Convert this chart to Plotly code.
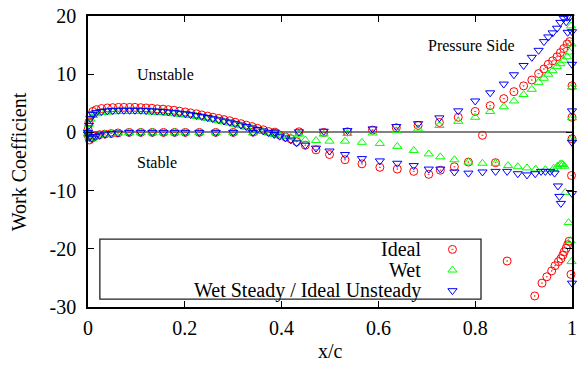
import plotly.graph_objects as go

# ---------------- data ----------------
upper_grid = [0.000, 0.002, 0.005, 0.010, 0.017, 0.028, 0.040, 0.051, 0.063, 0.074,
              0.086, 0.097, 0.109, 0.120, 0.132, 0.143, 0.155, 0.166, 0.178, 0.189,
              0.201, 0.212, 0.224, 0.235, 0.247, 0.258, 0.270, 0.281, 0.293, 0.304,
              0.316, 0.327, 0.339, 0.350, 0.362, 0.373, 0.385, 0.396, 0.408, 0.419, 0.431]

lower_grid = [0.000, 0.003, 0.008, 0.015, 0.024, 0.035, 0.048, 0.062, 0.085, 0.109,
              0.133, 0.156, 0.179, 0.201, 0.230, 0.264, 0.300, 0.341, 0.386, 0.436,
              0.487, 0.536, 0.588, 0.637, 0.682, 0.726, 0.765, 0.800, 0.831, 0.859,
              0.880, 0.900, 0.917, 0.931, 0.942, 0.951, 0.960, 0.969, 0.976, 0.983,
              0.990, 0.995]

# Ideal
ideal_upper_y = [0.5, 1.8, 2.9, 3.6, 3.9, 4.1, 4.2, 4.25, 4.3, 4.3,
                 4.3, 4.3, 4.25, 4.2, 4.15, 4.05, 4.0, 3.9, 3.8, 3.65,
                 3.5, 3.35, 3.2, 3.0, 2.8, 2.6, 2.4, 2.2, 2.0, 1.75,
                 1.5, 1.25, 1.0, 0.7, 0.45, 0.15, -0.15, -0.45, -0.8, -1.1, -1.6]
ideal_tail_x = [0.449, 0.471, 0.499, 0.531, 0.566, 0.603, 0.639, 0.673, 0.704, 0.728,
                0.757, 0.786, 0.815, 0.842, 0.866]
ideal_tail_y = [-2.2, -3.0, -3.8, -4.7, -5.4, -6.0, -6.3, -6.7, -7.2, -6.5,
                -5.9, -5.1, -0.5, -5.2, -22.1]
ideal_lower_y = [-0.5, -1.3, -1.0, -0.6, -0.4, -0.3, -0.2, -0.1, 0.0, 0.0,
                 0.0, 0.0, 0.0, 0.0, 0.0, 0.0, 0.0, 0.05, 0.05, 0.1,
                 0.0, 0.1, 0.4, 0.8, 1.2, 1.7, 2.6, 3.6, 4.6, 5.8,
                 7.0, 8.0, 9.0, 10.1, 10.9, 11.7, 12.3, 13.0, 13.7, 14.4,
                 15.2, 15.6]
ideal_te_x = [0.923, 0.938, 0.948, 0.958, 0.965, 0.972, 0.977, 0.981, 0.984, 0.988,
              0.991, 0.994, 0.998, 0.999, 1.0, 1.0, 1.0]
ideal_te_y = [-28.1, -25.9, -24.8, -23.8, -22.9, -22.2, -21.7, -21.1, -20.5, -19.9,
              -19.3, -18.7, -24.4, -7.4, -1.1, 2.6, 8.0]

# Wet
wet_upper_y = [0.3, 1.4, 2.3, 2.9, 3.2, 3.4, 3.5, 3.55, 3.6, 3.6,
               3.6, 3.6, 3.6, 3.55, 3.5, 3.45, 3.4, 3.3, 3.2, 3.1,
               3.0, 2.9, 2.75, 2.6, 2.4, 2.2, 2.0, 1.8, 1.6, 1.4,
               1.15, 0.9, 0.65, 0.4, 0.15, -0.1, -0.35, -0.55, -0.7, -0.85, -1.0]
wet_tail_x = [0.449, 0.471, 0.499, 0.531, 0.566, 0.603, 0.639, 0.673, 0.704, 0.728,
              0.757, 0.786, 0.815, 0.842, 0.868, 0.888, 0.907, 0.925, 0.945, 0.962,
              0.970, 0.975, 0.978, 0.981, 0.984, 0.986, 0.993, 0.997, 0.999]
wet_tail_y = [-1.3, -1.4, -1.5, -1.5, -1.7, -1.9, -2.4, -3.1, -3.7, -4.2,
              -4.7, -5.1, -5.3, -5.3, -5.7, -5.9, -6.1, -6.3, -6.4, -6.2,
              -5.8, -5.5, -5.4, -5.5, -5.8, -10.3, -15.5, -18.6, -22.2]
wet_lower_y = [-0.3, -0.9, -1.1, -0.8, -0.5, -0.3, -0.2, -0.1, 0.0, 0.0,
               0.0, 0.0, 0.0, 0.0, 0.0, 0.0, 0.0, -0.1, -0.2, -0.3,
               -0.3, -0.2, -0.1, 0.3, 0.6, 1.2, 1.9, 2.6, 3.6, 4.4,
               5.4, 6.5, 7.4, 8.6, 9.3, 10.0, 10.6, 11.3, 11.8, 12.4,
               13.0, 13.8]
wet_te_x = [0.998, 0.999, 1.0, 1.0, 1.0]
wet_te_y = [18.3, 15.2, 7.8, 2.5, -1.1]

# Wet Steady / Ideal Unsteady
ws_upper_y = [0.0, 1.2, 2.4, 3.1, 3.4, 3.6, 3.7, 3.75, 3.8, 3.8,
              3.8, 3.8, 3.8, 3.75, 3.7, 3.65, 3.6, 3.5, 3.4, 3.3,
              3.2, 3.05, 2.9, 2.75, 2.55, 2.35, 2.15, 1.95, 1.75, 1.5,
              1.25, 1.0, 0.75, 0.5, 0.25, -0.05, -0.35, -0.65, -0.95, -1.3, -1.8]
ws_tail_x = [0.449, 0.471, 0.499, 0.531, 0.566, 0.603, 0.639, 0.673, 0.704, 0.728,
             0.757, 0.786, 0.815, 0.842, 0.866, 0.888, 0.907, 0.924, 0.936, 0.945,
             0.955, 0.964, 0.971, 0.974, 0.977]
ws_tail_y = [-2.2, -2.7, -3.2, -3.8, -4.5, -4.9, -5.3, -5.7, -6.3, -6.3,
             -6.8, -7.0, -6.8, -6.7, -6.7, -7.1, -7.3, -7.1, -6.7, -6.7,
             -6.7, -7.0, -9.2, -11.0, -12.2]
ws_lower_y = [-0.3, -0.8, -1.0, -0.7, -0.5, -0.3, -0.2, -0.1, 0.0, 0.0,
              0.0, 0.0, 0.0, 0.0, 0.0, 0.0, 0.0, 0.0, 0.05, 0.1,
              0.2, 0.3, 0.6, 1.0, 1.5, 2.5, 3.7, 5.4, 6.8, 8.3,
              9.9, 11.5, 12.9, 14.1, 15.6, 16.4, 17.1, 17.9, 18.9, 19.6,
              19.8, 19.8]
ws_te_x = [0.988, 0.991, 1.0, 1.0, 1.0, 1.0, 1.0, 1.0]
ws_te_y = [19.0, 17.2, 17.3, 11.7, 3.7, -1.7, -10.5, -25.9]

series_names = ["Ideal", "Wet", "Wet Steady / Ideal Unsteady"]
series_colors = ["#ff0000", "#00ff00", "#0000ff"]
series_symbols = ["circle-open-dot", "triangle-up-open", "triangle-down-open"]

x_ticks = [0, 0.2, 0.4, 0.6, 0.8, 1]
x_ticktext = ["0", "0.2", "0.4", "0.6", "0.8", "1"]
y_ticks = [-30, -20, -10, 0, 10, 20]
y_ticktext = ["-30", "-20", "-10", "0", "10", "20"]

# ---------------- figure ----------------
FONT = "Liberation Serif, Times New Roman, serif"
series_x = [
    upper_grid + ideal_tail_x + lower_grid + ideal_te_x,
    upper_grid + wet_tail_x + lower_grid + wet_te_x,
    upper_grid + ws_tail_x + lower_grid + ws_te_x,
]
series_y = [
    ideal_upper_y + ideal_tail_y + ideal_lower_y + ideal_te_y,
    wet_upper_y + wet_tail_y + wet_lower_y + wet_te_y,
    ws_upper_y + ws_tail_y + ws_lower_y + ws_te_y,
]

fig = go.Figure()
for name, xs, ys, c, s in zip(series_names, series_x, series_y, series_colors, series_symbols):
    fig.add_trace(go.Scatter(
        x=xs, y=ys, mode="markers", name=name, showlegend=False, cliponaxis=False,
        marker=dict(symbol=s, size=8, color=c, line=dict(color=c, width=1)),
    ))

# hand-made gnuplot-style key (symbols on an overlay axis in plot-fraction units)
key_rows = [0.198, 0.127, 0.056]
for name, c, s, ry in zip(series_names, series_colors, series_symbols, key_rows):
    fig.add_trace(go.Scatter(
        x=[0.753], y=[ry], xaxis="x2", yaxis="y2", mode="markers", showlegend=False,
        marker=dict(symbol=s, size=8, color=c, line=dict(color=c, width=1)),
        hoverinfo="skip",
    ))
    fig.add_annotation(x=0.693, y=ry, xref="paper", yref="paper", text=name,
                       showarrow=False, xanchor="right", yanchor="middle",
                       font=dict(family=FONT, size=20, color="black"))
fig.add_shape(type="rect", xref="paper", yref="paper", x0=0.0245, x1=0.812,
              y0=0.027, y1=0.233, line=dict(color="#222222", width=1.3),
              fillcolor="rgba(0,0,0,0)")

for txt, x, y in [("Unstable", 0.098, 10), ("Stable", 0.098, -5.2), ("Pressure Side", 0.699, 15)]:
    fig.add_annotation(x=x, y=y, text=txt, showarrow=False, xanchor="left", yanchor="middle",
                       font=dict(family=FONT, size=16, color="black"))

fig.add_annotation(x=0.501, y=-0.152, xref="paper", yref="paper", text="x/c", showarrow=False,
                   xanchor="center", yanchor="middle", font=dict(family=FONT, size=20, color="black"))
fig.add_annotation(x=-0.143, y=0.5, xref="paper", yref="paper", text="Work Coefficient",
                   textangle=-90, showarrow=False, xanchor="center", yanchor="middle",
                   font=dict(family=FONT, size=20, color="black"))

axis_common = dict(showgrid=False, showline=True, linecolor="black", linewidth=1.5,
                   mirror="ticks", ticks="inside", ticklen=6, tickwidth=1, tickcolor="black",
                   tickfont=dict(family=FONT, size=20, color="black"))
fig.update_layout(
    width=582, height=365,
    margin=dict(l=88, r=5, t=15, b=58),
    paper_bgcolor="white", plot_bgcolor="white",
    xaxis=dict(range=[0, 1], tickvals=x_ticks, ticktext=x_ticktext, zeroline=False,
               ticklabelstandoff=2, **axis_common),
    yaxis=dict(range=[-30, 20], tickvals=y_ticks, ticktext=y_ticktext, zeroline=True,
               zerolinecolor="#808080", zerolinewidth=1.5, ticklabelstandoff=6, **axis_common),
    xaxis2=dict(range=[0, 1], overlaying="x", anchor="y2", visible=False),
    yaxis2=dict(range=[0, 1], overlaying="y", anchor="x2", visible=False),
)

fig.write_html("out.html")
